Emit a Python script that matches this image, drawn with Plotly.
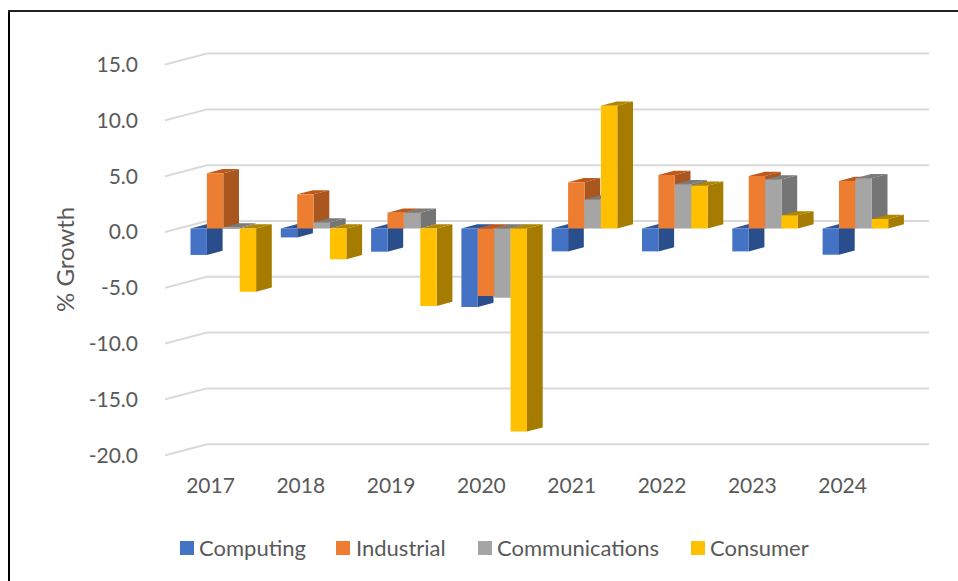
import plotly.graph_objects as go

years = ["2017", "2018", "2019", "2020", "2021", "2022", "2023", "2024"]
computing = [-2.37, -0.8, -2.08, -7.03, -2.05, -2.05, -2.05, -2.35]
industrial = [4.95, 3.06, 1.42, -6.05, 4.14, 4.8, 4.7, 4.26]
communications = [0.1, 0.55, 1.42, -6.2, 2.6, 3.96, 4.4, 4.5]
consumer = [-5.66, -2.76, -6.94, -18.2, 11.0, 3.84, 1.18, 0.85]
series_names = ["Computing", "Industrial", "Communications", "Consumer"]
series_values = [computing, industrial, communications, consumer]
front_colors = ["#4472C4", "#ED7D31", "#A5A5A5", "#FFC000"]
side_colors = ["#2A4D8C", "#A9561F", "#757575", "#A67C00"]
top_colors = ["#2F5597", "#C0581A", "#7B7B7B", "#B08500"]
tick_vals = [15, 10, 5, 0, -5, -10, -15, -20]
tick_text = ["15.0", "10.0", "5.0", "0.0", "-5.0", "-10.0", "-15.0", "-20.0"]

W, H = 958, 581
L, R, T, B = 165, 940, 45, 470
PX_X = 90.3
PX_Y = 11.16
x_of_first = 210.5
y_of_zero = 232.0
px = lambda p: p / PX_X
py = lambda p: p / PX_Y
paper_x = lambda p: (p - L) / (R - L)
paper_y = lambda p: (B - p) / (B - T)

BASE = py(3.5)
BAR_W = px(16.4)
GROUP_SHIFT = px(12.8)
DX, DY = px(15.7), py(4.2)
FRONT_DROP = py(0.0)
BACK_RISE = py(11.0)
BACK_DX = px(42)

legend_swatch_left = [180, 336, 478, 691]
legend_text_left = [199, 356, 497, 710]
LEGEND_Y = 548
SWATCH = 14

fig = go.Figure()
cats = list(range(len(years)))
x_left = (L - x_of_first) / PX_X
x_right_back = (929 - x_of_first) / PX_X
x_mid_back = x_left + BACK_DX

gx, gy = [], []
for v in tick_vals:
    gx += [x_left, x_mid_back, x_right_back, None]
    gy += [v - FRONT_DROP, v + BACK_RISE, v + BACK_RISE, None]
fig.add_trace(go.Scatter(x=gx, y=gy, mode="lines", line=dict(color="#D9D9D9", width=2),
                         hoverinfo="skip", showlegend=False, zorder=-1))

for s, (name, vals) in enumerate(zip(series_names, series_values)):
    left = [c - 2 * BAR_W + GROUP_SHIFT + s * BAR_W for c in cats]
    tx, ty, sx, sy = [], [], [], []
    for l, v in zip(left, vals):
        r = l + BAR_W
        hi = BASE + max(v, 0)
        lo = BASE + min(v, 0)
        tx += [l, r, r + DX, l + DX, l, None]
        ty += [hi, hi, hi + DY, hi + DY, hi, None]
        sx += [r, r + DX, r + DX, r, r, None]
        sy += [hi, hi + DY, lo + DY, lo, hi, None]
    fig.add_trace(go.Scatter(x=tx, y=ty, mode="lines", fill="toself", fillcolor=top_colors[s],
                             line=dict(width=0), hoverinfo="skip", showlegend=False, zorder=s * 3))
    fig.add_trace(go.Scatter(x=sx, y=sy, mode="lines", fill="toself", fillcolor=side_colors[s],
                             line=dict(width=0), hoverinfo="skip", showlegend=False, zorder=s * 3 + 1))
    fig.add_trace(go.Bar(x=[l + BAR_W / 2 for l in left], y=vals, base=BASE, width=BAR_W, name=name,
                         marker=dict(color=front_colors[s], line=dict(width=0)), zorder=s * 3 + 2,
                         showlegend=False))

annotations = [dict(text="% Growth", xref="paper", yref="paper", x=paper_x(64), y=paper_y(260),
                    textangle=-90, showarrow=False, font=dict(size=24),
                    xanchor="center", yanchor="middle")]
shapes = [dict(type="line", xref="paper", yref="paper", x0=paper_x(9), x1=paper_x(9),
               y0=paper_y(11), y1=paper_y(600), line=dict(color="black", width=2)),
          dict(type="line", xref="paper", yref="paper", x0=paper_x(8), x1=paper_x(960),
               y0=paper_y(11), y1=paper_y(11), line=dict(color="#222222", width=2))]
for name, color, sw, tl in zip(series_names, front_colors, legend_swatch_left, legend_text_left):
    shapes.append(dict(type="rect", xref="paper", yref="paper", x0=paper_x(sw), x1=paper_x(sw + SWATCH),
                       y0=paper_y(LEGEND_Y - SWATCH / 2), y1=paper_y(LEGEND_Y + SWATCH / 2),
                       fillcolor=color, line=dict(width=0)))
    annotations.append(dict(text=name, xref="paper", yref="paper", x=paper_x(tl), y=paper_y(LEGEND_Y),
                            showarrow=False, font=dict(size=22), xanchor="left", yanchor="middle",
                            xshift=-2, yshift=1))

fig.update_layout(
    width=W, height=H, paper_bgcolor="white", plot_bgcolor="white",
    margin=dict(l=L, r=W - R, t=T, b=H - B, autoexpand=False),
    barmode="overlay", showlegend=False,
    font=dict(family="Lato, Carlito, sans-serif", color="#595959", size=21),
    xaxis=dict(range=[x_left, (R - x_of_first) / PX_X], tickmode="array", tickvals=cats, ticktext=years,
               showgrid=False, zeroline=False, showline=False, ticks="", ticklabelstandoff=1,
               tickfont=dict(size=21)),
    yaxis=dict(range=[(y_of_zero - B) / PX_Y, (y_of_zero - T) / PX_Y], tickmode="array",
               tickvals=tick_vals, ticktext=tick_text, showgrid=False, zeroline=False, showline=False,
               ticks="", ticklabelstandoff=26, tickfont=dict(size=21)),
    annotations=annotations,
    shapes=shapes,
)
fig.write_html("out.html", config={"displayModeBar": False},
               post_script="document.body.style.margin='0';")
